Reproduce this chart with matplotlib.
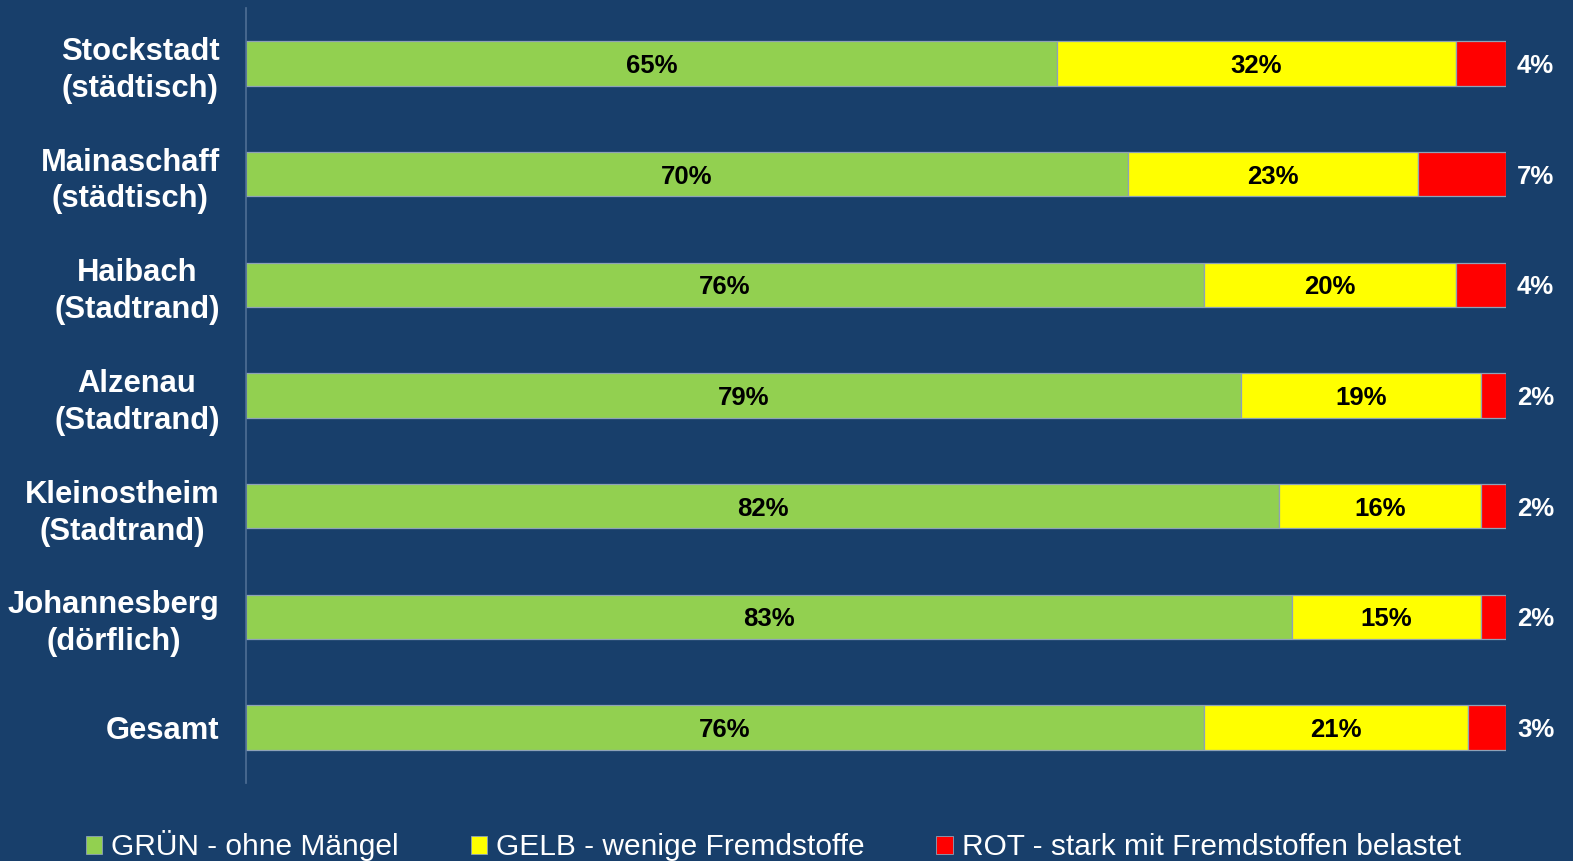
import numpy as np
import matplotlib
matplotlib.use("Agg")
import matplotlib.pyplot as plt
from matplotlib.patches import Patch

# data
orte = ["Stockstadt\n(städtisch)", "Mainaschaff\n(städtisch)", "Haibach\n(Stadtrand)",
        "Alzenau\n(Stadtrand)", "Kleinostheim\n(Stadtrand)", "Johannesberg\n(dörflich)",
        "Gesamt"]
gruen = [65, 70, 76, 79, 82, 83, 76]
gelb = [32, 23, 20, 19, 16, 15, 21]
rot = [4, 7, 4, 2, 2, 2, 3]
legend_labels = ["GRÜN - ohne Mängel", "GELB - wenige Fremdstoffe",
                 "ROT - stark mit Fremdstoffen belastet"]

BG = "#183f6b"
colors = ["#92d050", "#ffff00", "#ff0000"]

plt.rcParams["font.family"] = ["Liberation Sans", "DejaVu Sans"]

fig = plt.figure(figsize=(15.73, 8.61), dpi=100, facecolor=BG)
ax = fig.add_axes([0.1564, 0.0906, 0.8010, 0.9001], facecolor=BG)

vals = np.array([gruen, gelb, rot], dtype=float)
shares = vals / vals.sum(axis=0) * 100
y = np.arange(len(orte))

left = np.zeros(len(orte))
for i, (row, c) in enumerate(zip(shares, colors)):
    ax.barh(y, row, left=left, height=0.4, color=c, edgecolor="#8ea2b8",
            linewidth=0.9, label=legend_labels[i])
    for j in range(len(orte)):
        txt = f"{int(vals[i, j])}%"
        if i < 2:
            ax.text(left[j] + row[j] / 2, y[j], txt, ha="center", va="center_baseline",
                    fontsize=18.5, fontweight="bold", color="black")
        else:
            ax.annotate(txt, (100, y[j]), xytext=(8, 0), textcoords="offset points",
                        ha="left", va="center_baseline", fontsize=18.5, fontweight="bold",
                        color="white", annotation_clip=False)
    left += row

ax.set_xlim(0, 100)
ax.set_ylim(len(orte) - 0.5, -0.5)
ax.set_yticks(y)
ax.set_yticklabels(orte, fontsize=22.3, fontweight="bold", color="white",
                   linespacing=1.3)
for lbl in ax.get_yticklabels():
    lbl.set_multialignment("center")
ax.tick_params(axis="y", length=0, pad=19)
ax.set_xticks([])
for s in ["top", "right", "bottom"]:
    ax.spines[s].set_visible(False)
ax.spines["left"].set_color("#4f6f95")
ax.spines["left"].set_linewidth(1.2)

handles = [Patch(facecolor=c, edgecolor="#8ea2b8", linewidth=0.6) for c in colors]
leg = fig.legend(handles, legend_labels, loc="lower left", ncol=3,
                 bbox_to_anchor=(0.047, -0.014), frameon=False, fontsize=21.5,
                 handlelength=0.55, handleheight=0.55, handletextpad=0.3,
                 columnspacing=2.4, borderaxespad=0)
for t in leg.get_texts():
    t.set_color("white")

fig.savefig("out.png", dpi=100, facecolor=BG)
